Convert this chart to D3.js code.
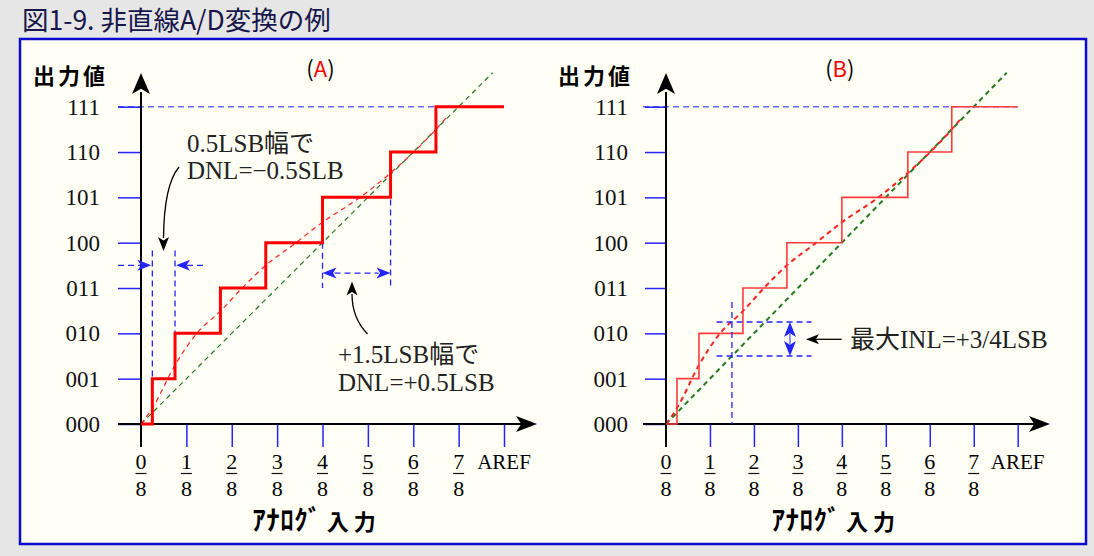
<!DOCTYPE html>
<html><head><meta charset="utf-8">
<script src="https://cdn.jsdelivr.net/npm/d3@7"></script>
<style>body{margin:0;background:#e6e6e6;}svg{display:block;}</style>
</head><body>
<script>
// ---- data (LSB units) ----
const codes = ["000","001","010","011","100","101","110","111"];
const xNumerators = ["0","1","2","3","4","5","6","7"];
const xDenominator = "8";
const xEndLabel = "AREF";
const transitions = [0.25, 0.75, 1.75, 2.75, 4.0, 5.5, 6.5];   // code transition points
const fullScale = 8;
const idealLine = [[0,0],[7.75,7.75]];
const nonlinCurve = [[0,0],[0.25,0.35],[0.75,1.3],[1.23,2.0],[1.76,2.5],[2.21,2.98],[2.75,3.5],[3.39,3.98],[4,4.45],[4.83,5.0],[5.49,5.53],[6.5,6.5],[6.72,6.75]];
const dnlNeg = {x0:0.25, x1:0.75, yTop:3.83, yArrow:3.5, ends:[1,2]};
const dnlPos = {x0:4.0, x1:5.5, yTop0:4, yTop1:4.95, yBot:3, yArrow:3.33};
const inl = {x:1.5, yTop:2.69, yHi:2.25, yLo:1.5, xl:1.15, xr:3.31, xArrow:2.82};

const W=1094,H=556;
const svg = d3.select("body").append("svg").attr("width",W).attr("height",H);
svg.append("rect").attr("width",W).attr("height",H).attr("fill","#e6e6e6");
svg.append("text").attr("x",22).attr("y",30).attr("font-family","'Noto Sans CJK JP'")
  .attr("font-size",26.5).attr("fill","#16164a").text("図1-9. 非直線A/D変換の例");
svg.append("rect").attr("x",20).attr("y",39).attr("width",1066).attr("height",505)
  .attr("fill","#fffff5").attr("stroke","#0a0ad0").attr("stroke-width",2.5);

const SERIF="'Liberation Serif','DejaVu Serif','Noto Sans CJK JP',serif";
const SANS="'Noto Sans CJK JP','Noto Sans',sans-serif";
const BLUE="#2424ff";

function stairs(){
  const p=[[0,0]];
  transitions.forEach((t,i)=>{p.push([t,i]);p.push([t,i+1]);});
  p.push([fullScale,transitions.length]);
  return p;
}
function arrowHead(g,tipX,tipY,dir,len,half,fill){
  let pts;
  const n=len*0.25;
  if(dir==='up') pts=[[tipX,tipY],[tipX+half,tipY+len],[tipX,tipY+len-n],[tipX-half,tipY+len]];
  if(dir==='down') pts=[[tipX,tipY],[tipX+half,tipY-len],[tipX,tipY-len+n],[tipX-half,tipY-len]];
  if(dir==='right') pts=[[tipX,tipY],[tipX-len,tipY-half],[tipX-len+n,tipY],[tipX-len,tipY+half]];
  if(dir==='left') pts=[[tipX,tipY],[tipX+len,tipY-half],[tipX+len-n,tipY],[tipX+len,tipY+half]];
  g.append("path").attr("d","M"+pts.map(p=>p.join(",")).join("L")+"Z").attr("fill",fill);
}

function panel(opt){
  const g=svg.append("g");
  const x=d3.scaleLinear().domain([0,fullScale]).range([opt.x0,opt.x1]);
  const y=d3.scaleLinear().domain([0,7]).range([424,106.7]);
  const line=d3.line().x(d=>x(d[0])).y(d=>y(d[1]));
  const t=g.append("text").attr("x",(opt.x0+opt.x1)/2-2).attr("y",77).attr("text-anchor","middle")
    .attr("font-family",SANS).attr("font-size",22);
  t.append("tspan").text("(");t.append("tspan").attr("fill","#ff0000").text(opt.label);t.append("tspan").text(")");
  g.append("text").attr("x",opt.x0-108).attr("y",84).attr("font-family",SANS).attr("font-weight",700)
    .attr("font-size",22).attr("letter-spacing",3).text("出力値");
  g.append("line").attr("x1",opt.x0-23).attr("x2",x(fullScale)).attr("y1",y(7)).attr("y2",y(7))
    .attr("stroke","#6a6aff").attr("stroke-width",1.5).attr("stroke-dasharray","6,4");
  const ya=g.append("g").attr("transform",`translate(${opt.x0},0)`)
    .call(d3.axisLeft(y).tickValues(d3.range(8)).tickFormat(i=>codes[i]).tickSize(opt.ytick).tickPadding(opt.ypad));
  ya.select(".domain").remove();
  ya.selectAll(".tick line").attr("stroke",BLUE).attr("stroke-width",1.5);
  ya.selectAll(".tick text").attr("font-family",SERIF).attr("font-size",23).attr("fill","#111");
  const xa=g.append("g").attr("transform","translate(0,424)")
    .call(d3.axisBottom(x).tickValues(d3.range(1,fullScale+1)).tickSize(23).tickFormat(""));
  xa.select(".domain").remove();
  xa.selectAll(".tick line").attr("stroke",BLUE).attr("stroke-width",1.5);
  xNumerators.forEach((n,i)=>{
    g.append("text").attr("x",x(i)).attr("y",469).attr("text-anchor","middle").attr("font-family",SERIF).attr("font-size",22).text(n);
    g.append("line").attr("x1",x(i)-5.5).attr("x2",x(i)+5.5).attr("y1",473.5).attr("y2",473.5).attr("stroke","#111").attr("stroke-width",1.2);
    g.append("text").attr("x",x(i)).attr("y",496).attr("text-anchor","middle").attr("font-family",SERIF).attr("font-size",22).text(xDenominator);
  });
  g.append("text").attr("x",x(fullScale)).attr("y",469).attr("text-anchor","middle").attr("font-family",SERIF).attr("font-size",21).text(xEndLabel);
  const xl=g.append("text").attr("x",(opt.x0+opt.x1)/2-6).attr("y",530).attr("text-anchor","middle").attr("font-family",SANS)
    .attr("font-weight",700);
  xl.append("tspan").attr("font-size",27).attr("letter-spacing",0.5).text("ｱﾅﾛｸﾞ");
  xl.append("tspan").attr("font-size",22).attr("dx",5).attr("letter-spacing",5).text("入力");
  g.append("path").attr("d",line(idealLine)).attr("fill","none").attr("stroke","#237a23")
    .attr("stroke-width",opt.dw).attr("stroke-dasharray","5,4");
  g.append("path").attr("d",line.curve(d3.curveMonotoneX)(nonlinCurve)).attr("fill","none").attr("stroke","#ff2020")
    .attr("stroke-width",opt.dw).attr("stroke-dasharray","5,4");
  line.curve(d3.curveLinear);
  g.append("line").attr("x1",opt.x0).attr("x2",opt.x0).attr("y1",447).attr("y2",92).attr("stroke","#000").attr("stroke-width",2);
  arrowHead(g,opt.x0,73,'up',21,9,"#000");
  g.append("line").attr("x1",opt.x0-23).attr("x2",opt.ax-16).attr("y1",424).attr("y2",424).attr("stroke","#000").attr("stroke-width",2);
  arrowHead(g,opt.ax,424,'right',21,8,"#000");
  const ann=g.append("g");
  g.append("path").attr("d",line(stairs())).attr("fill","none").attr("stroke",opt.sc).attr("stroke-width",opt.sw);
  return {g,ann,x,y};
}

// ---- Panel A ----
const A=panel({x0:141,x1:504,ax:537,label:"A",ytick:23,ypad:18,dw:1.2,sw:3,sc:"#ff0000"});
{
  const {g,ann,x,y}=A;
  const dash=s=>s.attr("stroke",BLUE).attr("stroke-width",1.3).attr("stroke-dasharray","6,4").attr("fill","none");
  dnlNeg.ends.forEach((e,i)=>{
    const xv=i===0?dnlNeg.x0:dnlNeg.x1;
    dash(ann.append("line").attr("x1",x(xv)).attr("x2",x(xv)).attr("y1",y(dnlNeg.yTop)).attr("y2",y(e)));
  });
  const ya=y(dnlNeg.yArrow);
  dash(g.append("line").attr("x1",118).attr("x2",x(dnlNeg.x0)-12).attr("y1",ya).attr("y2",ya));
  arrowHead(g,x(dnlNeg.x0)-1,ya,'right',14,5.5,BLUE);
  dash(g.append("line").attr("x1",x(dnlNeg.x1)+12).attr("x2",x(dnlNeg.x1)+28).attr("y1",ya).attr("y2",ya));
  arrowHead(g,x(dnlNeg.x1)+1,ya,'left',14,5.5,BLUE);
  dash(ann.append("line").attr("x1",x(dnlPos.x0)).attr("x2",x(dnlPos.x0)).attr("y1",y(dnlPos.yTop0)).attr("y2",y(dnlPos.yBot)));
  dash(ann.append("line").attr("x1",x(dnlPos.x1)).attr("x2",x(dnlPos.x1)).attr("y1",y(dnlPos.yTop1)).attr("y2",y(dnlPos.yBot)));
  const yb=y(dnlPos.yArrow);
  dash(g.append("line").attr("x1",x(dnlPos.x0)+12).attr("x2",x(dnlPos.x1)-12).attr("y1",yb).attr("y2",yb));
  arrowHead(g,x(dnlPos.x0),yb,'left',14,5.5,BLUE);
  arrowHead(g,x(dnlPos.x1),yb,'right',14,5.5,BLUE);
  const tx=(xx,yy,s)=>g.append("text").attr("x",xx).attr("y",yy).attr("font-family",SERIF).attr("font-size",25).attr("fill","#222").text(s);
  tx(187,152,"0.5LSB幅で");tx(187,179,"DNL=−0.5SLB");
  tx(338,363,"+1.5LSB幅で");tx(338,391,"DNL=+0.5LSB");
  g.append("path").attr("d","M179,167 Q164,185 163.5,238").attr("fill","none").attr("stroke","#000").attr("stroke-width",1.3);
  arrowHead(g,163.5,251,'down',14,5.5,"#000");
  g.append("path").attr("d","M367.5,334 Q352,318 352,294").attr("fill","none").attr("stroke","#000").attr("stroke-width",1.3);
  arrowHead(g,352,281.5,'up',14,5.5,"#000");
}
// ---- Panel B ----
const B=panel({x0:666,x1:1017.7,ax:1050,label:"B",ytick:21,ypad:17,dw:2,sw:1.6,sc:"#ff3a3a"});
{
  const {g,x,y}=B;
  const dash=s=>s.attr("stroke",BLUE).attr("stroke-width",1.3).attr("stroke-dasharray","6,4").attr("fill","none");
  dash(g.append("line").attr("x1",x(inl.x)).attr("x2",x(inl.x)).attr("y1",y(inl.yTop)).attr("y2",424));
  [inl.yHi,inl.yLo].forEach(v=>dash(g.append("line").attr("x1",x(inl.xl)).attr("x2",x(inl.xr)).attr("y1",y(v)).attr("y2",y(v))));
  const xa=x(inl.xArrow);
  g.append("line").attr("x1",xa).attr("x2",xa).attr("y1",y(inl.yHi)+12).attr("y2",y(inl.yLo)-12).attr("stroke",BLUE).attr("stroke-width",1);
  arrowHead(g,xa,y(inl.yHi),'up',15,6,BLUE);
  arrowHead(g,xa,y(inl.yLo),'down',15,6,BLUE);
  g.append("line").attr("x1",841.7).attr("x2",816).attr("y1",339.3).attr("y2",339.3).attr("stroke","#000").attr("stroke-width",1.3);
  arrowHead(g,806,339.3,'left',13,5,"#000");
  g.append("text").attr("x",850).attr("y",348).attr("font-family",SERIF).attr("font-size",25).attr("fill","#222").text("最大INL=+3/4LSB");
}
</script>
</body></html>
